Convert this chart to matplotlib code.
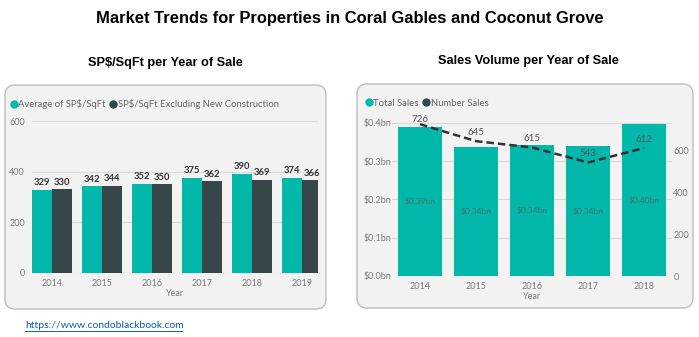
import matplotlib
matplotlib.use('Agg')
import matplotlib.pyplot as plt
from matplotlib.patches import FancyBboxPatch
from matplotlib.lines import Line2D
import numpy as np

# data
years_left = ['2014', '2015', '2016', '2017', '2018', '2019']
avg_sqft = [329, 342, 352, 375, 390, 374]
avg_sqft_excl_new = [330, 344, 350, 362, 369, 366]

years_right = ['2014', '2015', '2016', '2017', '2018']
total_sales_bn = [0.388, 0.336, 0.342, 0.339, 0.398]
number_sales = [726, 645, 615, 543, 612]

teal = '#01B8AA'
dark = '#374649'
tick_col = '#7a7a7a'
grid_col = '#d9d9d9'

W, H = 699, 337
fig = plt.figure(figsize=(W / 100, H / 100), dpi=100)
fig.patch.set_facecolor('white')

narrow = ['Liberation Sans', 'DejaVu Sans']
ui = ['Lato', 'DejaVu Sans']

# background layer in pixel coordinates
bg = fig.add_axes([0, 0, 1, 1])
bg.set_xlim(0, W)
bg.set_ylim(H, 0)
bg.axis('off')

for (x0, y0, x1, y1) in [(5, 85, 326, 309), (357, 84, 693, 308)]:
    bg.add_patch(FancyBboxPatch((x0, y0), x1 - x0, y1 - y0,
                                boxstyle='round,pad=0,rounding_size=10',
                                facecolor='#f2f2f2', edgecolor='#bdbdbd', lw=1))

bg.text(350, 18, 'Market Trends for Properties in Coral Gables and Coconut Grove',
        ha='center', va='center', fontsize=11.9, fontweight='bold', family=narrow, color='black')
bg.text(165, 63, 'SP$/SqFt per Year of Sale', ha='center', va='center',
        fontsize=9.2, fontweight='bold', family=narrow, color='black')
bg.text(528, 61, 'Sales Volume per Year of Sale', ha='center', va='center',
        fontsize=9.2, fontweight='bold', family=narrow, color='black')

bg.text(25, 326, 'https://www.condoblackbook.com', ha='left', va='center',
        fontsize=7.5, family=ui, color='#0b5cc2')
bg.plot([25, 182], [331, 331], color='#0b5cc2', lw=0.7)


def style_axes(ax):
    ax.set_facecolor('none')
    for s in ax.spines.values():
        s.set_visible(False)
    ax.tick_params(length=0, labelsize=6.5, labelcolor=tick_col)
    for lab in ax.get_xticklabels() + ax.get_yticklabels():
        lab.set_family(ui)


# ---- left chart: SP$/SqFt ----
axl = fig.add_axes([32 / W, (H - 273) / H, 286 / W, 152 / H])
x = np.arange(len(years_left))
bw = 0.4
b1 = axl.bar(x - bw / 2, avg_sqft, bw, color=teal, zorder=3)
b2 = axl.bar(x + bw / 2, avg_sqft_excl_new, bw, color=dark, zorder=3)
axl.set_xlim(-0.4, 5.32)
axl.set_ylim(0, 600)
axl.set_yticks([0, 200, 400, 600])
axl.set_xticks(x)
axl.set_xticklabels(years_left)
axl.yaxis.grid(True, color=grid_col, lw=0.8, zorder=0)
style_axes(axl)
axl.tick_params(axis='y', pad=5)
axl.tick_params(axis='x', pad=4)
axl.set_xlabel('Year', fontsize=6.5, color=tick_col, family=ui, labelpad=1)
for bars in (b1, b2):
    for r in bars:
        axl.annotate(f'{int(r.get_height())}', (r.get_x() + r.get_width() / 2, r.get_height()),
                     xytext=(0, 2), textcoords='offset points', ha='center', va='bottom',
                     fontsize=6.8, fontweight='bold', color='#333333', family=ui)

hl = [Line2D([], [], marker='o', ls='', color=teal, markersize=5),
      Line2D([], [], marker='o', ls='', color=dark, markersize=5)]
axl.legend(hl, ['Average of SP$/SqFt', 'SP$/SqFt Excluding New Construction'],
           loc='center left', bbox_to_anchor=(8, 104), bbox_transform=bg.transData,
           ncol=2, frameon=False, handletextpad=-0.1, columnspacing=0.2,
           borderaxespad=0, borderpad=0, handlelength=1.2,
           prop={'family': ui, 'size': 6.8}, labelcolor='#666666')

# ---- right chart: Sales volume ----
axr = fig.add_axes([392 / W, (H - 276) / H, 280 / W, 157 / H])
xr = np.arange(len(years_right))
bars = axr.bar(xr, total_sales_bn, 0.79, color=teal, zorder=3)
axr.set_xlim(-0.5, 4.5)
axr.set_ylim(0, 0.41)
axr.set_yticks([0, 0.1, 0.2, 0.3, 0.4])
axr.set_yticklabels([f'${v:.1f}bn' for v in [0, 0.1, 0.2, 0.3, 0.4]])
axr.set_xticks(xr)
axr.set_xticklabels(years_right)
axr.yaxis.grid(True, color=grid_col, lw=0.8, zorder=0)
style_axes(axr)
axr.tick_params(axis='y', pad=0.5)
axr.tick_params(axis='x', pad=4)
axr.set_xlabel('Year', fontsize=6.5, color=tick_col, family=ui, labelpad=1)
for r, v in zip(bars, total_sales_bn):
    axr.text(r.get_x() + r.get_width() / 2, v / 2, f'${v:.2f}bn', ha='center', va='center',
             fontsize=6, color='#4d6f6c', family=ui, zorder=4)

ax2 = axr.twinx()
ax2.plot(xr, number_sales, color='#333333', lw=1.8, ls=(0, (3, 1.6)), zorder=5)
ax2.set_ylim(0, 751)
ax2.set_yticks([0, 200, 400, 600])
style_axes(ax2)
ax2.tick_params(axis='y', pad=1)
for xi, v in zip(xr, number_sales):
    off = 0 if v > 700 else 3
    ax2.annotate(f'{v}', (xi, v), xytext=(0, off), textcoords='offset points',
                 ha='center', va='bottom', fontsize=7, color='#555555', family=ui)

hr = [Line2D([], [], marker='o', ls='', color=teal, markersize=5),
      Line2D([], [], marker='o', ls='', color=dark, markersize=5)]
axr.legend(hr, ['Total Sales', 'Number Sales'],
           loc='center left', bbox_to_anchor=(363, 103), bbox_transform=bg.transData,
           ncol=2, frameon=False, handletextpad=-0.1, columnspacing=0.2,
           borderaxespad=0, borderpad=0, handlelength=1.2,
           prop={'family': ui, 'size': 6.8}, labelcolor='#666666')

fig.savefig('out.png', dpi=100, facecolor='white')
